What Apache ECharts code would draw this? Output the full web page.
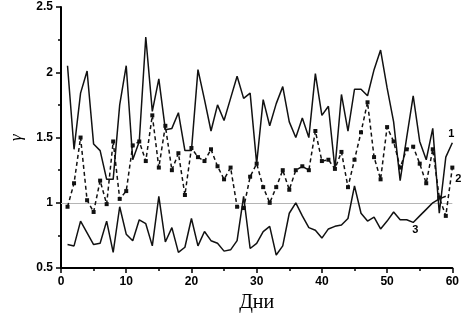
<!DOCTYPE html>
<html>
<head>
<meta charset="utf-8">
<script src="https://cdn.jsdelivr.net/npm/echarts@6/dist/echarts.min.js"></script>
<style>
  html, body { margin: 0; padding: 0; background: #fff; }
  #chart { width: 462px; height: 318px; }
</style>
</head>
<body>
<div id="chart"></div>
<script>
// days 1..60
const days = Array.from({ length: 60 }, (_, i) => i + 1);

const curve1 = [
  2.05, 1.41, 1.84, 2.01, 1.45, 1.40, 1.18, 1.18, 1.75, 2.05,
  1.33, 1.47, 2.27, 1.70, 1.95, 1.56, 1.57, 1.69, 1.40, 1.40,
  2.02, 1.79, 1.55, 1.75, 1.63, 1.80, 1.97, 1.80, 1.84, 1.30,
  1.79, 1.59, 1.76, 1.89, 1.62, 1.50, 1.65, 1.50, 1.99, 1.67,
  1.74, 1.26, 1.83, 1.55, 1.87, 1.87, 1.82, 2.02, 2.17, 1.88,
  1.62, 1.17, 1.50, 1.82, 1.47, 1.33, 1.57, 0.92, 1.35, 1.46,
];

const curve2 = [
  0.97, 1.15, 1.50, 1.02, 0.93, 1.17, 0.99, 1.47, 1.03, 1.09,
  1.44, 1.47, 1.32, 1.67, 1.27, 1.59, 1.25, 1.38, 1.06, 1.42,
  1.35, 1.32, 1.41, 1.28, 1.18, 1.27, 0.97, 0.96, 1.20, 1.30,
  1.12, 1.00, 1.12, 1.25, 1.10, 1.25, 1.28, 1.25, 1.55, 1.32,
  1.33, 1.26, 1.39, 1.12, 1.33, 1.54, 1.77, 1.35, 1.18, 1.58,
  1.47, 1.27, 1.41, 1.43, 1.30, 1.15, 1.41, 1.04, 0.90, 1.27,
];

// curve 3 stops at day 59
const curve3 = [
  0.68, 0.67, 0.86, 0.77, 0.68, 0.69, 0.86, 0.62, 0.97, 0.76,
  0.71, 0.87, 0.84, 0.67, 1.05, 0.70, 0.81, 0.62, 0.66, 0.88,
  0.67, 0.78, 0.71, 0.69, 0.63, 0.64, 0.71, 1.05, 0.65, 0.69,
  0.78, 0.82, 0.60, 0.67, 0.92, 1.00, 0.90, 0.81, 0.79, 0.73,
  0.80, 0.82, 0.83, 0.88, 1.13, 0.92, 0.86, 0.89, 0.80, 0.86,
  0.93, 0.87, 0.87, 0.85, 0.90, 0.95, 1.00, 1.03, 1.05,
];

const curveNames = ["1", "2", "3"];
const refLevel = 1;

const xTicks = { min: 0, max: 60, step: 10 };
const yTicks = { min: 0.5, max: 2.5, step: 0.5 };

const chart = echarts.init(document.getElementById("chart"));

const labelFont = {
  color: "#000",
  fontFamily: "Liberation Sans, Arial, sans-serif",
  fontWeight: "bold",
  fontSize: 11,
};

// attach a curve number to one point of a series
const toData = (values, labelIdx, labelCfg) =>
  values.map((v, i) => {
    const item = { value: [days[i], v] };
    if (i === labelIdx) {
      item.label = Object.assign({ show: true, ...labelFont }, labelCfg);
    }
    return item;
  });

const option = {
  animation: false,
  grid: {
    left: 44,
    right: 9,
    top: 7,
    bottom: 45,
  },
  xAxis: {
    type: "value",
    min: xTicks.min,
    max: xTicks.max,
    interval: xTicks.step,
    name: "Дни",
    nameLocation: "middle",
    nameGap: 21,
    nameTextStyle: {
      fontFamily: "Liberation Serif, Times New Roman, serif",
      fontSize: 20,
      color: "#000",
    },
    axisLine: { show: true, lineStyle: { color: "#000", width: 2 } },
    axisTick: { show: true, length: 5, lineStyle: { color: "#000", width: 1.5 } },
    minorTick: { show: true, splitNumber: 2, length: 3, lineStyle: { color: "#000", width: 1.5 } },
    axisLabel: { margin: 8, ...labelFont, fontSize: 12 },
    splitLine: { show: false },
  },
  yAxis: {
    type: "value",
    min: yTicks.min,
    max: yTicks.max,
    interval: yTicks.step,
    name: "γ",
    nameLocation: "middle",
    nameGap: 36,
    nameRotate: 90,
    nameTextStyle: {
      fontFamily: "Liberation Serif, Times New Roman, serif",
      fontStyle: "italic",
      fontSize: 17,
      color: "#000",
    },
    axisLine: { show: true, lineStyle: { color: "#000", width: 2 } },
    axisTick: { show: true, length: 5, lineStyle: { color: "#000", width: 1.5 } },
    minorTick: { show: true, splitNumber: 2, length: 3, lineStyle: { color: "#000", width: 1.5 } },
    axisLabel: { margin: 8, ...labelFont, fontSize: 12 },
    splitLine: { show: false },
  },
  series: [
    {
      name: curveNames[0],
      type: "line",
      data: toData(curve1, curve1.length - 1, {
        formatter: curveNames[0],
        position: "top",
        distance: 3,
        offset: [-1, 0],
      }),
      symbol: "circle",
      symbolSize: 0,
      lineStyle: { color: "#111", width: 1.5 },
      z: 3,
    },
    {
      name: curveNames[1],
      type: "line",
      data: toData(curve2, curve2.length - 1, {
        formatter: curveNames[1],
        position: "bottom",
        distance: 4,
        offset: [6, 0],
      }),
      symbol: "rect",
      symbolSize: 4,
      itemStyle: { color: "#111" },
      lineStyle: { color: "#111", width: 1.5, type: [4, 3] },
      z: 2,
      markLine: {
        silent: true,
        symbol: "none",
        label: { show: false },
        lineStyle: { color: "#b5b5b5", width: 1, type: "solid" },
        data: [{ yAxis: refLevel }],
        z: 1,
      },
    },
    {
      name: curveNames[2],
      type: "line",
      data: toData(curve3, 53, {
        formatter: curveNames[2],
        position: "bottom",
        distance: 2,
        offset: [2, 0],
      }),
      symbol: "circle",
      symbolSize: 0,
      lineStyle: { color: "#111", width: 1.5 },
      z: 3,
    },
  ],
};

chart.setOption(option);

window.addEventListener("resize", () => chart.resize());
</script>
</body>
</html>
